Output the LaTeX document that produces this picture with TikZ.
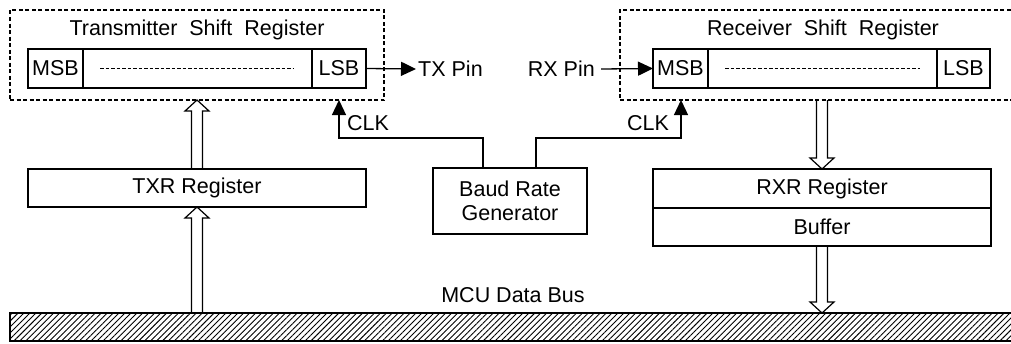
\documentclass[tikz,border=0pt]{standalone}
\usepackage{fontspec}
\setmainfont{Liberation Sans}
\usetikzlibrary{arrows.meta,calc,positioning,patterns.meta}

\newcommand{\hollowarrow}[2]{%
  \draw[line width=1.2pt] let \p1=(#1), \p2=(#2), \n1={11*sign(\y2-\y1)} in
    ({\x1-5.5pt},\y1) -- ({\x2-5.5pt},{\y2-(\n1)*1pt}) -- ({\x2-12pt},{\y2-(\n1)*1pt})
    -- (\x2,\y2) -- ({\x2+12pt},{\y2-(\n1)*1pt}) -- ({\x2+5.5pt},{\y2-(\n1)*1pt})
    -- ({\x1+5.5pt},\y1);}

\begin{document}
\begin{tikzpicture}[x=1pt,y=-1pt,
  every node/.style={font=\fontsize{21.5}{24}\selectfont},
  box/.style={draw,line width=1.3pt,inner sep=0pt,outer sep=0pt},
  cell/.style={box,minimum height=39},
  dashbox/.style={draw,line width=1.1pt,dash pattern=on 4pt off 2.5pt,inner sep=0pt,outer sep=0pt},
  sig/.style={line width=1.3pt,-{Triangle[length=15pt,width=14pt]}},
  dots/.style={line width=1.2pt,dash pattern=on 3.5pt off 2pt},
  bus/.style={draw,line width=1.3pt,pattern={Lines[angle=45,distance=4.2pt,line width=0.9pt]},inner sep=0pt,outer sep=0pt}]
\useasboundingbox (0,0) rectangle (1011,343);
\clip (0,0) rectangle (1011,343);

% transmitter side
\node[dashbox,minimum width=374,minimum height=90] (txsr) at (197,55) {};
\node (txtitle) at (197,30) {Transmitter\ \ Shift\ \ Register};
\node[cell,minimum width=55] (txmsb) at (55.5,68.5) {MSB};
\node[cell,minimum width=229,right=0pt of txmsb] (txmid) {};
\node[cell,minimum width=54,right=0pt of txmid] (txlsb) {LSB};
\draw[dots] ([xshift=17]txmid.west) -- ([xshift=-19]txmid.east);
\node[anchor=west,inner sep=2pt] (txpin) at (416,69) {TX Pin};
\draw[sig] (txlsb.east) -- (txpin.west);
\node[box,minimum width=338,minimum height=38] (txr) at (197,188) {TXR Register};

% receiver side
\node[dashbox,anchor=north west,minimum width=420,minimum height=90] (rxsr) at (620,10) {};
\node (rxtitle) at (823,30) {Receiver\ \ Shift\ \ Register};
\node[cell,minimum width=55] (rxmsb) at (680.5,68.5) {MSB};
\node[cell,minimum width=229,right=0pt of rxmsb] (rxmid) {};
\node[cell,minimum width=53,right=0pt of rxmid] (rxlsb) {LSB};
\draw[dots] ([xshift=17]rxmid.west) -- ([xshift=-17]rxmid.east);
\node[anchor=east,inner sep=6pt] (rxpin) at (601,69) {RX Pin};
\draw[sig] (rxpin.east) -- (rxmsb.west);
\node[box,minimum width=338,minimum height=39] (rxr) at (822,188.5) {RXR Register};
\node[box,minimum width=338,minimum height=38,below=0pt of rxr] (buf) {Buffer};

% baud rate generator and clocks
\node[box,minimum width=154,minimum height=66,align=center] (baud) at (510,201) {Baud Rate\\Generator};
\coordinate (txclk) at (339,138);
\coordinate (rxclk) at (681,138);
\draw[sig] ([xshift=-27]baud.north) |- (txclk) -- (txclk |- txsr.south);
\draw[sig] ([xshift=26]baud.north) |- (rxclk) -- (rxclk |- rxsr.south);
\node (txclklbl) at (368,123) {CLK};
\node (rxclklbl) at (648,123) {CLK};

% data bus
\node[bus,anchor=north west,minimum width=1040,minimum height=28] (bus) at (10,313) {};
\node (buslbl) at (513,295) {MCU Data Bus};

\hollowarrow{txr.north}{txsr.south}
\hollowarrow{bus.north -| txr.south}{txr.south}
\hollowarrow{rxsr.south -| rxr.north}{rxr.north}
\hollowarrow{buf.south}{bus.north -| buf.south}
\end{tikzpicture}
\end{document}
